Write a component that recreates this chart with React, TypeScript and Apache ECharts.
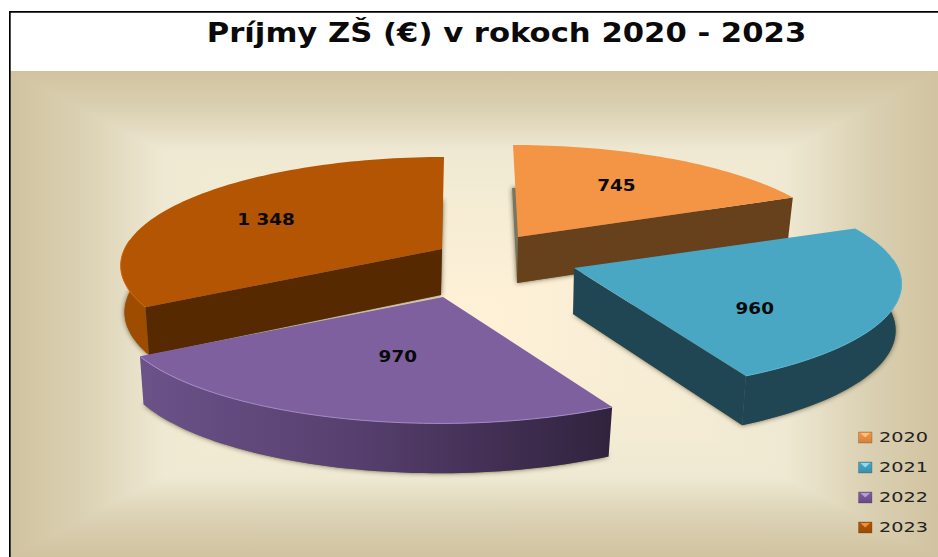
import React, { useEffect, useRef } from "react";
import * as echarts from "echarts";

const TITLE = "Príjmy ZŠ (€) v rokoch 2020 - 2023";
const years = ["2020", "2021", "2022", "2023"];
const values = [745, 960, 970, 1348];
const valueLabels = ["745", "960", "970", "1 348"];

const topColors = ["#f39545", "#4aa7c4", "#7f609e", "#b35503"];
const rimColors = ["#f7ab66", "#5fb6d0", "#a48ac8", "#d96a0a"];
const legendLight = ["#fbc27e", "#8fdcf0", "#b79bdc", "#f0903a"];
const legendDark = ["#d9803a", "#3a8fab", "#66498a", "#9c4a05"];
const outerWallColors: any[] = [
  "#67401c",
  "#1f4652",
  new echarts.graphic.LinearGradient(140, 0, 611, 0, [
    { offset: 0, color: "#6b5289" },
    { offset: 0.45, color: "#57406f" },
    { offset: 0.7, color: "#463258" },
    { offset: 1, color: "#31233e" },
  ], true),
  "#9d4c00",
];
const radialWallColors = ["#67401c", "#1f4652", "#3a2a4a", "#562900"];
const seriesZ = [2, 5, 4, 3];

// Projection of the tilted pie (perspective on the plane), in pixels.
const RX = 324;
const RY = 105.6;
const PERSPECTIVE = 0.148;
const THICKNESS = 46;
// Each slice's explosion: where its tip lands, plus small per-slice corrections.
const explode = [
  { ax: 518, ay: 237, sx: 0.985, sy: 1, skew: -5, lx: 3, ly: -2 },
  { ax: 574, ay: 268, sx: 1, sy: 1, skew: 0, lx: -8, ly: 19 },
  { ax: 443, ay: 297, sx: 1, sy: 1.02, skew: 3, lx: 15, ly: -8 },
  { ax: 442, ay: 249, sx: 0.98, sy: 1, skew: 2, lx: -18, ly: 0 },
];

const total = values.reduce((a, b) => a + b, 0);
const rad = (d: number) => (d * Math.PI) / 180;

function sliceAngles(i: number) {
  let before = 0;
  for (let k = 0; k < i; k++) before += values[k];
  return [(before / total) * 360, ((before + values[i]) / total) * 360];
}

function project(i: number, deg: number, r: number, bottom: boolean): number[] {
  const e = explode[i];
  const u = r * Math.sin(rad(deg));
  const v = r * Math.cos(rad(deg));
  const w = 1 + PERSPECTIVE * v;
  let x = (e.sx * RX * u) / w + e.skew * v;
  let y = e.ay - (e.sy * RY * v) / w;
  if (bottom) {
    x = x * 0.985 - 1;
    y += THICKNESS / Math.sqrt(w);
  }
  return [e.ax + x, y];
}

function arc(i: number, a0: number, a1: number, bottom: boolean): number[][] {
  const n = Math.max(2, Math.ceil((a1 - a0) / 1.5));
  const pts: number[][] = [];
  for (let k = 0; k <= n; k++) pts.push(project(i, a0 + ((a1 - a0) * k) / n, 1, bottom));
  return pts;
}

function renderSlice(i: number) {
  return (_params: any, api: any) => {
    const value = api.value(0);
    const [a0, a1] = sliceAngles(i);
    const children: any[] = [];
    const apexTop = project(i, 0, 0, false);
    const apexBottom = project(i, 0, 0, true);

    // Soft halo of the slice's underside
    children.push({
      type: "polygon",
      shape: { points: [apexBottom, ...arc(i, a0, a1, true)] },
      style: { fill: "#7a745e", shadowBlur: 5, shadowColor: "rgba(50,42,20,0.7)" },
    });

    // Outer curved wall: only the part turned towards the viewer
    const w0 = Math.max(a0, 85);
    const w1 = Math.min(a1, 275);
    if (w1 > w0) {
      children.push({
        type: "polygon",
        shape: { points: [...arc(i, w0, w1, false), ...arc(i, w0, w1, true).reverse()] },
        style: { fill: outerWallColors[i] },
      });
    }

    // Flat cut walls facing the viewer
    const radial = (deg: number) => ({
      type: "polygon",
      shape: { points: [apexTop, project(i, deg, 1, false), project(i, deg, 1, true), apexBottom] },
      style: { fill: radialWallColors[i] },
    });
    if (Math.sin(rad(a0)) < -1e-6) children.push(radial(a0));
    if (Math.sin(rad(a1)) > 1e-6) children.push(radial(a1));

    // Top face
    children.push({
      type: "polygon",
      shape: { points: [apexTop, ...arc(i, a0, a1, false)] },
      style: { fill: topColors[i] },
    });

    // Light rim on the front edge
    if (w1 > w0) {
      children.push({
        type: "polyline",
        shape: { points: arc(i, w0, w1, false) },
        style: { fill: "none", stroke: rimColors[i], lineWidth: 1 },
      });
    }

    // Value label
    const mid = (a0 + a1) / 2;
    const p = project(i, mid, 0.6, false);
    children.push({
      type: "text",
      x: p[0] + explode[i].lx,
      y: p[1] + explode[i].ly,
      scaleX: 1.15,
      style: {
        text: valueLabels[values.indexOf(value)],
        fill: "#0a0a0a",
        font: 'bold 16px "DejaVu Sans"',
        align: "center",
        verticalAlign: "middle",
      },
    });
    return { type: "group", children };
  };
}

function backdrop(): any[] {
  const L = 10.5, T = 71, R = 938, B = 557;
  const cx = (L + R) / 2, cy = (T + B) / 2;
  const stops = [
    { offset: 0, color: "#d1c3a0" },
    { offset: 0.15, color: "#dad0b2" },
    { offset: 0.33, color: "#efe9d3" },
    { offset: 0.6, color: "#f6edd4" },
    { offset: 1, color: "#fff1d8" },
  ];
  const face = (pts: number[][], x: number, y: number, z: number) => ({
    type: "polygon",
    z,
    silent: true,
    shape: { points: pts },
    style: {
      fill: new echarts.graphic.LinearGradient(x, y, cx, cy, stops, true),
    },
  });
  return [
    // Top and bottom faces run past the diagonals, the side faces sit on them: no seams.
    face([[L, T], [R, T], [R, T + 4], [cx, cy + 4], [L, T + 4]], cx, T, -6),
    face([[L, B], [R, B], [R, B - 4], [cx, cy - 4], [L, B - 4]], cx, B, -6),
    face([[L, T], [L, B], [cx, cy]], L, cy, -5),
    face([[R, T], [R, B], [cx, cy]], R, cy, -5),
    { type: "rect", z: -4, silent: true, shape: { x: 9, y: 11, width: 929, height: 1.7 }, style: { fill: "#000" } },
    { type: "rect", z: -4, silent: true, shape: { x: 9, y: 11, width: 1.7, height: 546 }, style: { fill: "#000" } },
  ];
}

function titleText(): any {
  return {
    type: "text",
    z: 10,
    silent: true,
    x: 506.5,
    y: 33,
    scaleX: 1.137,
    style: {
      text: TITLE,
      fill: "#0a0a0a",
      font: 'bold 27px "DejaVu Sans"',
      align: "center",
      verticalAlign: "middle",
    },
  };
}

function legendItems(): any[] {
  const out: any[] = [];
  years.forEach((year, i) => {
    const top = 432 + i * 30;
    out.push({
      type: "rect",
      z: 10,
      silent: true,
      shape: { x: 858.5, y: top, width: 13.5, height: 11 },
      style: {
        fill: new echarts.graphic.LinearGradient(0, 0, 0, 1, [
          { offset: 0, color: topColors[i] },
          { offset: 1, color: legendDark[i] },
        ]),
        stroke: "rgba(70,60,40,0.4)",
        lineWidth: 0.7,
      },
    });
    out.push({
      type: "polygon",
      z: 11,
      silent: true,
      shape: { points: [[860.5, top + 1], [870, top + 1], [865.2, top + 5.5]] },
      style: { fill: legendLight[i] },
    });
    out.push({
      type: "text",
      z: 10,
      silent: true,
      x: 879,
      y: top + 5,
      scaleX: 1.32,
      style: {
        text: year,
        fill: "#222",
        font: '14.6px "DejaVu Sans"',
        align: "left",
        verticalAlign: "middle",
      },
    });
  });
  return out;
}

export default function App() {
  const ref = useRef<HTMLDivElement>(null);
  useEffect(() => {
    document.body.style.margin = "0";
    document.body.style.background = "#fff";
    const chart = echarts.init(ref.current!, undefined, { renderer: "svg" });
    chart.setOption({
      animation: false,
      backgroundColor: "#ffffff",
      graphic: { elements: [...backdrop(), titleText(), ...legendItems()] },
      series: years.map((year, i) => ({
        type: "custom",
        name: year,
        coordinateSystem: "none",
        silent: true,
        clip: false,
        z: seriesZ[i],
        data: [[values[i]]],
        renderItem: renderSlice(i),
      })),
    });
    return () => chart.dispose();
  }, []);
  return <div ref={ref} style={{ position: "fixed", left: 0, top: 0, width: 938, height: 557 }} />;
}
